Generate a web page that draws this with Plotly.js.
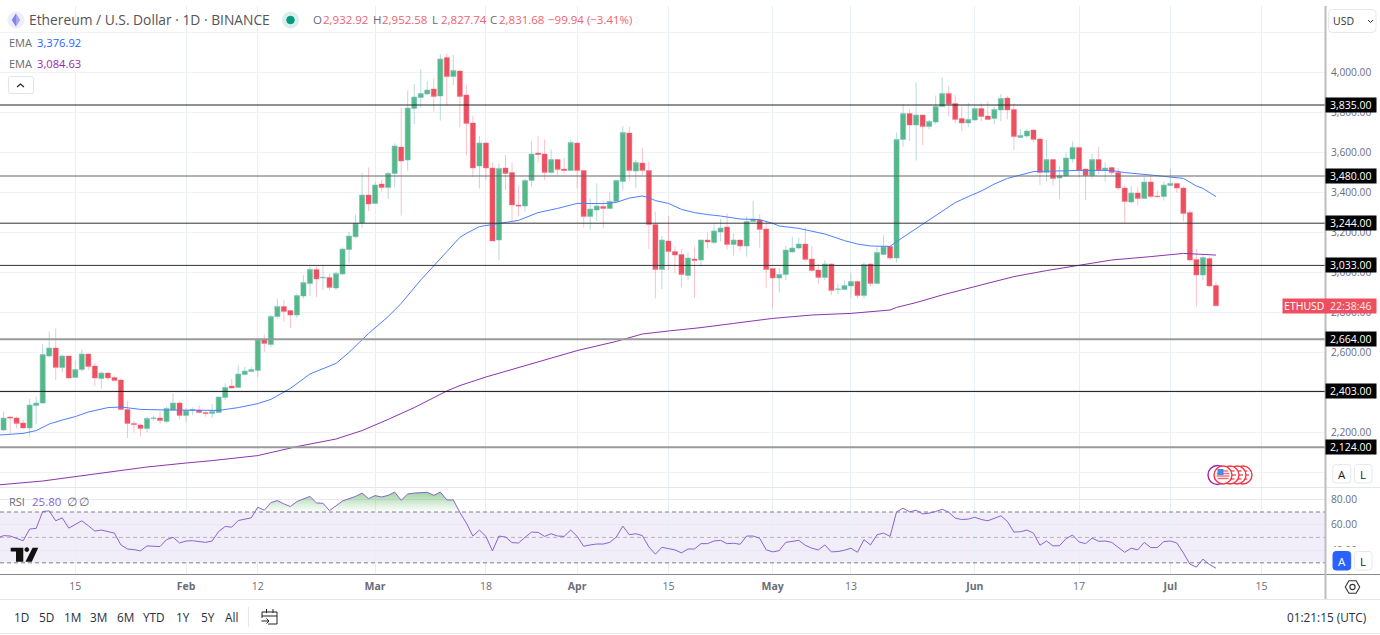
<!DOCTYPE html>
<html>
<head>
<meta charset="utf-8">
<script src="https://cdn.plot.ly/plotly-3.0.1.min.js"></script>
<style>html,body{margin:0;padding:0;background:#fff;overflow:hidden}#chart{width:1380px;height:635px}</style>
</head>
<body>
<div id="chart"></div>
<script>
const opens = [
2210,2275,2270,2245,2220,2333,2345,2580,2620,2523,2580,2473,2512,2590,2530,2467,2495,2472,2460,2313,2243,2235,2217,2267,2270,2253,2310,2345,
2283,2308,2310,2297,2292,2297,2372,2430,2423,2487,2502,2508,2663,2637,2777,2828,2807,2785,2880,2942,3013,2970,2972,2920,2990,3113,3176,3245,3385,
3343,3440,3422,3492,3625,3560,3817,3872,3890,3915,3880,4073,3977,4005,3885,3745,3530,3645,3520,3160,3520,3497,3335,3330,3458,3595,3590,3497,3562,3515,3508,
3645,3508,3278,3310,3328,3317,3353,3452,3695,3505,3545,3508,3238,3012,3155,3102,3087,2983,3065,3060,3160,3148,3200,3225,3138,3160,3130,3253,3260,3215,
3018,2970,2987,3100,3120,3140,3065,3010,2973,3040,2912,2912,2930,2953,2882,3040,2943,3088,3127,3070,3663,3792,3735,3785,3727,3750,3827,3893,3843,3767,3745,
3760,3817,3780,3767,3810,3870,3813,3673,3680,3710,3665,3497,3562,3470,3480,3565,3623,3515,3482,3562,3510,3522,3497,3420,3350,3395,3368,3450,3380,3377,
3433,3443,3420,3298,3063,2985,3068,2932.92];
const highs = [
2302,2280,2277,2260,2365,2377,2640,2702,2717,2588,2582,2557,2613,2593,2548,2502,2497,2483,2467,2353,2255,2243,2277,2283,2303,2327,2393,2353,
2318,2323,2332,2307,2340,2377,2443,2465,2535,2525,2527,2668,2688,2785,2867,2860,2810,2893,2985,3027,3027,3030,2993,3002,3123,3202,3288,3497,3523,
3452,3460,3502,3643,3822,3907,3940,4015,3955,3968,4090,4093,4085,4013,3935,3780,3680,3650,3547,3543,3585,3547,3433,3468,3655,3680,3663,3613,3565,3572,3660,
3650,3510,3368,3443,3357,3398,3460,3730,3727,3560,3620,3553,3302,3180,3280,3130,3113,3098,3127,3162,3198,3238,3265,3293,3193,3163,3277,3357,3290,3252,
3020,3020,3130,3177,3173,3223,3130,3040,3060,3043,2943,2957,2998,2957,3048,3043,3123,3183,3132,3698,3838,3813,3948,3788,3760,3882,3973,3930,3885,3827,3845,
3827,3843,3853,3827,3890,3880,3843,3715,3715,3713,3673,3660,3565,3530,3597,3652,3627,3517,3590,3625,3547,3527,3520,3433,3430,3427,3477,3485,3407,3452,
3518,3447,3430,3313,3115,3085,3077,2952.58];
const lows = [
2205,2193,2218,2218,2177,2240,2340,2573,2460,2497,2467,2471,2502,2510,2430,2417,2457,2453,2310,2170,2197,2177,2200,2257,2243,2243,2308,2263,
2247,2285,2293,2277,2270,2295,2360,2417,2421,2483,2500,2473,2600,2625,2768,2753,2720,2768,2868,2880,2875,2910,2907,2910,2985,3043,3168,3220,3305,
3340,3402,3365,3423,3282,3507,3740,3822,3885,3802,3757,3835,3935,3723,3585,3477,3418,3460,3153,3060,3410,3252,3277,3302,3427,3547,3460,3493,3480,3493,3507,
3418,3222,3210,3255,3217,3315,3350,3410,3455,3420,3483,3115,2868,2915,3010,2997,2923,2960,2872,3027,3118,3138,3153,3113,3082,3105,3077,3252,3122,2920,
2817,2897,2960,3098,3115,3052,3002,2942,2960,2885,2890,2910,2868,2867,2868,2930,2937,3085,3060,3047,3627,3655,3557,3635,3713,3738,3825,3777,3743,3705,3725,
3757,3752,3760,3738,3755,3763,3610,3670,3668,3648,3435,3452,3430,3365,3477,3547,3473,3360,3468,3490,3452,3485,3410,3243,3343,3332,3365,3368,3373,3357,
3430,3397,3253,3052,2827,2960,2923,2827.74];
const closes = [
2270,2270,2243,2220,2335,2345,2587,2620,2523,2580,2470,2512,2590,2527,2470,2495,2470,2457,2312,2243,2237,2217,2268,2270,2257,2318,2345,2283,
2308,2312,2297,2292,2303,2375,2423,2420,2490,2505,2512,2663,2642,2777,2828,2803,2785,2882,2947,3013,2965,2973,2922,2993,3115,3180,3243,3385,3340,
3435,3422,3493,3630,3555,3820,3875,3892,3910,3878,4065,3977,4008,3878,3743,3520,3645,3520,3155,3518,3493,3335,3330,3458,3590,3587,3498,3562,3512,3508,3648,
3507,3278,3315,3330,3318,3353,3458,3698,3507,3548,3507,3238,3012,3160,3102,3085,2987,3070,3057,3160,3150,3205,3220,3138,3160,3130,3253,3265,3213,3012,
2970,2988,3110,3120,3140,3063,3007,2973,3040,2907,2915,2932,2953,2882,3037,2943,3098,3127,3070,3663,3792,3735,3785,3727,3753,3827,3893,3840,3763,3745,3763,
3817,3778,3763,3813,3868,3810,3677,3683,3705,3663,3497,3562,3467,3483,3570,3623,3508,3482,3562,3510,3520,3497,3420,3352,3395,3368,3450,3377,3377,3435,
3443,3420,3293,3060,2985,3072,2930,2831.68];
const ema50Dates = ['01-03','01-07','01-09','01-11','01-13','01-15','01-17','01-20','01-22','01-25','01-29','02-02','02-06','02-09','02-12','02-14','02-17','02-20','02-24','02-26','02-29','03-03','03-05','03-08','03-11','03-12','03-14','03-15','03-17','03-18','03-20','03-22','03-23','03-26','03-29','04-01','04-05','04-07','04-09','04-11','04-12','04-13','04-15','04-17','04-19','04-21','04-23','04-26','04-29','05-01','05-02','05-05','05-09','05-12','05-14','05-16','05-19','05-20','05-23','05-27','05-29','05-31','06-02','06-04','06-06','06-10','06-13','06-17','06-22','06-24','06-28','07-01','07-03','07-05','07-06','07-08'];
const ema50Values = [2184,2193,2207,2240,2260,2277,2300,2322,2325,2313,2310,2308,2308,2322,2342,2363,2418,2490,2543,2598,2693,2777,2843,2960,3063,3102,3173,3193,3227,3232,3243,3252,3258,3297,3318,3343,3342,3348,3370,3380,3372,3357,3343,3313,3297,3287,3280,3265,3262,3243,3230,3218,3190,3157,3140,3130,3128,3152,3218,3307,3347,3377,3405,3440,3468,3502,3505,3508,3508,3497,3485,3477,3468,3430,3418,3376.92];
const ema200Dates = ['01-03','01-10','01-18','01-26','02-01','02-05','02-12','02-18','02-24','02-28','03-03','03-07','03-12','03-14','03-18','03-23','03-28','04-01','04-07','04-11','04-15','04-20','04-25','05-01','05-07','05-13','05-19','05-20','05-23','05-27','06-01','06-07','06-12','06-17','06-22','06-28','07-03','07-08'];
const ema200Values = [1935,1955,1990,2025,2045,2057,2082,2127,2165,2207,2263,2322,2405,2432,2475,2522,2568,2607,2653,2690,2705,2722,2743,2768,2785,2793,2810,2823,2847,2885,2927,2977,3007,3035,3060,3077,3093,3084.63];
const rsi = [49.5,
51.4,51.1,49.3,47.4,56.6,57.1,70.4,70.9,63.1,65.4,57.3,59.9,63.1,59.2,55.0,55.8,54.7,53.4,44.1,40.9,40.4,39.4,43.3,43.3,42.8,48.2,50.1,45.6,
47.2,47.4,46.7,46.1,47.2,54.7,58.6,58.1,63.3,64.6,65.4,73.8,71.4,77.4,79.0,76.4,74.3,78.2,80.3,82.3,77.1,76.9,71.1,74.8,78.7,80.5,82.3,84.9,80.5,
82.9,81.8,83.1,85.7,79.2,84.2,84.9,85.2,85.5,83.1,85.7,79.5,79.5,69.6,61.3,51.1,55.8,50.8,39.4,51.1,50.3,45.9,45.6,50.1,54.2,54.0,50.8,52.9,51.1,50.8,55.8,
50.8,43.0,44.1,44.8,44.8,46.1,50.3,58.9,52.1,52.9,51.4,42.5,36.8,42.2,41.2,40.2,37.8,40.9,40.9,45.1,45.1,47.2,47.7,45.1,45.4,44.6,51.1,51.1,49.3,40.2,
38.6,39.6,46.1,46.9,47.7,43.8,41.5,40.2,44.1,38.6,38.9,39.9,41.5,38.3,48.2,44.1,52.1,53.4,50.8,70.1,73.0,70.1,71.4,68.5,69.1,70.4,72.2,69.8,65.2,64.1,64.4,
65.9,64.1,63.1,65.2,67.0,62.6,54.2,54.5,55.8,53.4,43.8,47.2,43.3,43.5,49.0,51.9,46.4,45.1,49.5,46.9,47.2,46.1,42.0,38.3,41.5,40.2,46.1,42.0,42.0,46.7,
47.2,45.6,37.8,29.0,26.6,32.9,28.7,25.8];
const levels = [3835,3480,3244,3033,2664,2403,2124];
const levelText = ['3,835.00','3,480.00','3,244.00','3,033.00','2,664.00','2,403.00','2,124.00'];
const priceTicks = [2000,2200,2400,2600,2800,3000,3200,3400,3600,3800,4000,4200];
const priceTickText = ['','2,200.00','','2,600.00','2,800.00','3,000.00','3,200.00','3,400.00','3,600.00','3,800.00','4,000.00',''];
const rsiTicks = [40,60,80];
const rsiTickText = ['40.00','60.00','80.00'];
const timeTicks = ['2024-01-15','2024-02-01','2024-02-12','2024-03-01','2024-03-18','2024-04-01','2024-04-15','2024-05-01','2024-05-13','2024-06-01','2024-06-17','2024-07-01','2024-07-15'];
const timeTickText = ['15','<b>Feb</b>','12','<b>Mar</b>','18','<b>Apr</b>','15','<b>May</b>','13','<b>Jun</b>','17','<b>Jul</b>','15'];
const ranges = ['1D','5D','1M','3M','6M','YTD','1Y','5Y','All'];
const rangeX = [12.5,37.5,62.5,88.5,115.5,141.5,175.5,199.5,223.5];

const FONT = 'Open Sans, Noto Sans, sans-serif';
const GREEN='#53b987', RED='#ee4f5f';
const PW=1325, PH=568, TOP=6;
const px=x=>x/PW, py=y=>(574-y)/PH;
const day0=Date.UTC(2024,0,4);
const dayStr=i=>new Date(day0+i*864e5).toISOString().slice(0,10);
const dates=opens.map((_,i)=>dayStr(i));
const rsiDates=rsi.map((_,i)=>dayStr(i-1));
const xRange=['2024-01-03 10:48','2024-07-24 17:30'];
const Y2='y2';
const levelStyle=[['#222',1],['#666',1],['#333',1],['#333',1],['#9a9a9a',2],['#111',1],['#9a9a9a',2]];

const traces=[
 {type:'candlestick',x:dates,open:opens,high:highs,low:lows,close:closes,xaxis:'x',yaxis:'y',whiskerwidth:0,
  increasing:{line:{color:'rgba(125,190,190,0.55)',width:1},fillcolor:GREEN},
  decreasing:{line:{color:'rgba(240,110,130,0.42)',width:1},fillcolor:RED}},
 {type:'scatter',mode:'lines',x:ema50Dates.map(d=>'2024-'+d),y:ema50Values,line:{color:'#4f7dff',width:1},xaxis:'x',yaxis:'y'},
 {type:'scatter',mode:'lines',x:ema200Dates.map(d=>'2024-'+d),y:ema200Values,line:{color:'#8b35ad',width:1},xaxis:'x',yaxis:'y'}
];
levels.forEach((v,i)=>traces.push({type:'scatter',mode:'lines',x:xRange,y:[v,v],line:{color:levelStyle[i][0],width:levelStyle[i][1]},xaxis:'x',yaxis:'y'}));
traces.push({type:'scatter',mode:'lines',x:rsiDates,y:rsi.map(()=>70),line:{width:0},xaxis:'x',yaxis:Y2});
traces.push({type:'scatter',mode:'lines',x:rsiDates,y:rsi.map(v=>Math.max(v,70)),line:{width:0},fill:'tonexty',
  fillgradient:{type:'vertical',start:86,stop:70,colorscale:[[0,'rgba(76,175,80,0.55)'],[1,'rgba(76,175,80,0)']]},xaxis:'x',yaxis:Y2});
traces.push({type:'scatter',mode:'lines',x:rsiDates,y:rsi,line:{color:'#8a63d2',width:1},xaxis:'x',yaxis:Y2});

const shapes=[];
const add=o=>shapes.push(Object.assign({xref:'paper',yref:'paper',layer:'above'},o));
const rr=(x0,y0,x1,y1,r)=>`M${px(x0+r)},${py(y0)} L${px(x1-r)},${py(y0)} Q${px(x1)},${py(y0)} ${px(x1)},${py(y0+r)} L${px(x1)},${py(y1-r)} Q${px(x1)},${py(y1)} ${px(x1-r)},${py(y1)} L${px(x0+r)},${py(y1)} Q${px(x0)},${py(y1)} ${px(x0)},${py(y1-r)} L${px(x0)},${py(y0+r)} Q${px(x0)},${py(y0)} ${px(x0+r)},${py(y0)} Z`;
const poly=(pts,close)=>'M'+pts.map(p=>px(p[0])+','+py(p[1])).join(' L')+(close?' Z':'');
const box=(x0,y0,x1,y1,r,fill,line)=>add({type:'path',path:rr(x0,y0,x1,y1,r),fillcolor:fill,line:{color:line||fill,width:1}});
const circ=(cx,cy,r,fill,line,w)=>add({type:'circle',x0:px(cx-r),x1:px(cx+r),y0:py(cy+r),y1:py(cy-r),fillcolor:fill,line:{color:line||fill,width:w===undefined?1:w}});
const seg=(pts,color,w,close,fill)=>add({type:'path',path:poly(pts,close),line:{color:color,width:w},fillcolor:fill||'rgba(0,0,0,0)'});
const fillPoly=(pts,fill)=>add({type:'path',path:poly(pts,true),fillcolor:fill,line:{width:0}});
const rect=(x0,y0,x1,y1,fill)=>add({type:'rect',x0:px(x0),x1:px(x1),y0:py(y1),y1:py(y0),fillcolor:fill,line:{width:0}});

// RSI band and guides
shapes.push({type:'rect',xref:'paper',yref:'y2',x0:0,x1:1,y0:30,y1:70,fillcolor:'rgba(126,87,194,0.10)',line:{width:0},layer:'below'});
[[70,0.95],[50,0.5],[30,0.95]].forEach(g=>shapes.push({type:'line',xref:'paper',yref:'y2',x0:0,x1:1,y0:g[0],y1:g[0],opacity:g[1],line:{color:'#787b86',width:1,dash:'4px 3px'},layer:'above'}));
// legend backing
rect(0,33,88,72,'rgba(255,255,255,0.75)');
// frame
rect(0,0,1380,5.5,'#fff');
seg([[0,487.5],[PW,487.5]],'#e4e7ee',1);
seg([[1325,487.5],[1380,487.5]],'#e4e7ee',1);
seg([[0,574.5],[1380,574.5]],'#8a8a8a',1);
seg([[1325.5,6],[1325.5,600]],'#bdbdbd',2);
seg([[0,599.5],[1380,599.5]],'#e4e7ee',1);
seg([[0,633.5],[1380,633.5]],'#e4e7ee',1);
seg([[248.5,607],[248.5,627]],'#e4e7ee',1);
// symbol icon and status dot
circ(16,20,8,'#eceefa');
fillPoly([[16,13.5],[20.2,20],[16,26.5],[11.8,20]],'#a4a6f2');
fillPoly([[16,13.5],[16,26.5],[11.8,20]],'#7f83ea');
circ(290.5,20,8,'#d9efec');
circ(290.5,20,3.8,'#089981');
// collapse button
box(8.5,76.5,33.5,93.5,2,'#fff','#e0e3eb');
seg([[17,87],[20.5,84],[24,87]],'#222',1.2);
// USD button
box(1328.5,9.5,1376,32.5,4,'#fff','#e6e8ee');
seg([[1368,20],[1370.5,22.5],[1373,20]],'#333',1);
// TV logo
fillPoly([[10.7,547.7],[23.3,547.7],[23.3,561.7],[16,561.7],[16,551.4],[10.7,551.4]],'#111');
circ(26.8,549.6,1.9,'#111');
fillPoly([[32.6,547.7],[38.3,547.7],[31.8,561.7],[25.4,561.7]],'#111');
// event flags
circ(1217.5,475,9.5,'#fff','#9c27b0',1.4);
[1243,1237,1230].forEach(cx=>{circ(cx,475,9,'#fff','#f23645',1.4);
  [-4,0,4].forEach(d=>{const w=Math.sqrt(36-d*d);seg([[cx-w,475+d],[cx+w,475+d]],'#f26a77',1.6);});});
circ(1223,475,9,'#fff','#f23645',1.4);
[-4,-1.5,1,3.5].forEach(d=>{const w=Math.sqrt(42-d*d);seg([[1223-w,475+d],[1223+w,475+d]],'#f26a77',1.4);});
rect(1217.5,469,1223.5,475,'#3f8fe8');
// main scale A / L
box(1332.8,464.5,1350.7,483,3,'#fff','#e6e8ee');
box(1354.5,464.5,1372,483,3,'#fff','#e6e8ee');
// RSI scale A / L
rect(1327,547,1380,573,'#fff');
box(1333,551.5,1350.7,570,3,'#2962ff');
box(1354.5,551.5,1372,570,3,'#fff','#e6e8ee');
// gear
const hex=[];for(let a=0;a<6;a++){hex.push([1352.5+7.2*Math.cos(a*Math.PI/3),587+7.2*Math.sin(a*Math.PI/3)]);}
seg(hex,'#333',1.1,true);
circ(1352.5,587,2.6,'rgba(0,0,0,0)','#333',1.1);
// calendar
seg([[266,612],[262,612],[262,618]],'#222',1);
seg([[266,612],[277,612],[277,624],[268,624]],'#222',1);
seg([[262,616],[277,616]],'#222',1);
seg([[266.5,609],[266.5,613]],'#222',1);
seg([[273,609],[273,613]],'#222',1);
seg([[261.5,621],[269,621]],'#222',1);
seg([[266.5,618.5],[269,621],[266.5,623.5]],'#222',1);

const anns=[];
const T=(x,y,text,size,color,o)=>anns.push(Object.assign({xref:'paper',yref:'paper',x:px(x),y:py(y),text:text,showarrow:false,xanchor:'left',yanchor:'middle',borderpad:0,
  font:{family:FONT,size:size,color:color}},o||{}));
const tg='#686b76', tr='#f0626f';
T(27.5,20,'Ethereum / U.S. Dollar · 1D · BINANCE',13.8,'#555');
T(312,20,'O',11.5,tg);T(321.5,20,'2,932.92',11.5,tr);
T(371.5,20,'H',11.5,tg);T(380.5,20,'2,952.58',11.5,tr);
T(431,20,'L',11.5,tg);T(439.5,20,'2,827.74',11.5,tr);
T(488.5,20,'C',11.5,tg);T(497.5,20,'2,831.68',11.5,tr);
T(547,20,'−99.94 (−3.41%)',11.5,tr);
T(7.5,42,'EMA',11,tg);T(36,42,'3,376.92',11.2,'#2962ff');
T(7.5,63,'EMA',11,tg);T(36,63,'3,084.63',11.2,'#9c27b0');
T(1332,21,'USD',10.5,'#333');
T(7.5,502,'RSI',11,tg);T(30.5,502,'25.80',11.5,'#8a63d2');T(66,502,'∅',11.5,tg);T(78,502,'∅',11.5,tg);
levels.forEach((v,i)=>{
  const y=72+(4000-v)*0.2;
  T(1325,y,levelText[i],10.5,'#fff',{bgcolor:'#000',width:49.5,height:14,align:'center',valign:'middle'});
});
T(1281.5,306,'ETHUSD',10.5,'#fff',{bgcolor:'#ee4f5f',width:42.5,height:14,align:'center',valign:'middle'});
T(1325,306,'22:38:46',10.5,'#fde6e8',{bgcolor:'#ee4f5f',width:49.5,height:14,align:'center',valign:'middle'});
T(1341.7,474,'A',11.5,'#222',{xanchor:'center'});T(1363.2,474,'L',11.5,'#222',{xanchor:'center'});
T(1341.7,561,'A',11.5,'#fff',{xanchor:'center'});T(1363.2,561,'L',11.5,'#222',{xanchor:'center'});
ranges.forEach((r,i)=>T(rangeX[i],617,r,11.8,'#2a2e39'));
T(1286,617,'01:21:15 (UTC)',11.8,'#2a2e39');

const layout={
 width:1380,height:635,margin:{l:0,r:55,t:6,b:61,pad:0},paper_bgcolor:'#fff',plot_bgcolor:'#fff',showlegend:false,
 boxmode:'overlay',boxgap:0.22,boxgroupgap:0,
 font:{family:FONT,size:10.5,color:'#6a6d78'},
 xaxis:{type:'date',range:xRange,anchor:'y2',tickmode:'array',tickvals:timeTicks,ticktext:timeTickText,ticks:'',showline:false,zeroline:false,
   showgrid:true,gridcolor:'#e8eff5',gridwidth:1,rangeslider:{visible:false},tickfont:{family:FONT,size:10.5,color:'#6a6d78'},ticklabelstandoff:4,automargin:false,tickangle:0},
 yaxis:{domain:[87/PH,1],range:[1925,4330],side:'right',tickmode:'array',tickvals:priceTicks,ticktext:priceTickText,showgrid:true,gridcolor:'#eff2f7',gridwidth:1,
   zeroline:false,showline:false,ticks:'',tickfont:{family:FONT,size:10.2,color:'#6a6d78'},ticklabelstandoff:5,automargin:false,anchor:'x'},
 yaxis2:{domain:[0,86/PH],range:[21.2,88.9],side:'right',tickmode:'array',tickvals:rsiTicks,ticktext:rsiTickText,showgrid:true,gridcolor:'#e6e9f3',gridwidth:1,
   zeroline:false,showline:false,ticks:'',tickfont:{family:FONT,size:10.2,color:'#6a6d78'},ticklabelstandoff:5,automargin:false,anchor:'x'},
 shapes:shapes,annotations:anns
};
Plotly.newPlot('chart',traces,layout,{displayModeBar:false,staticPlot:true,responsive:false});
</script>
</body>
</html>
